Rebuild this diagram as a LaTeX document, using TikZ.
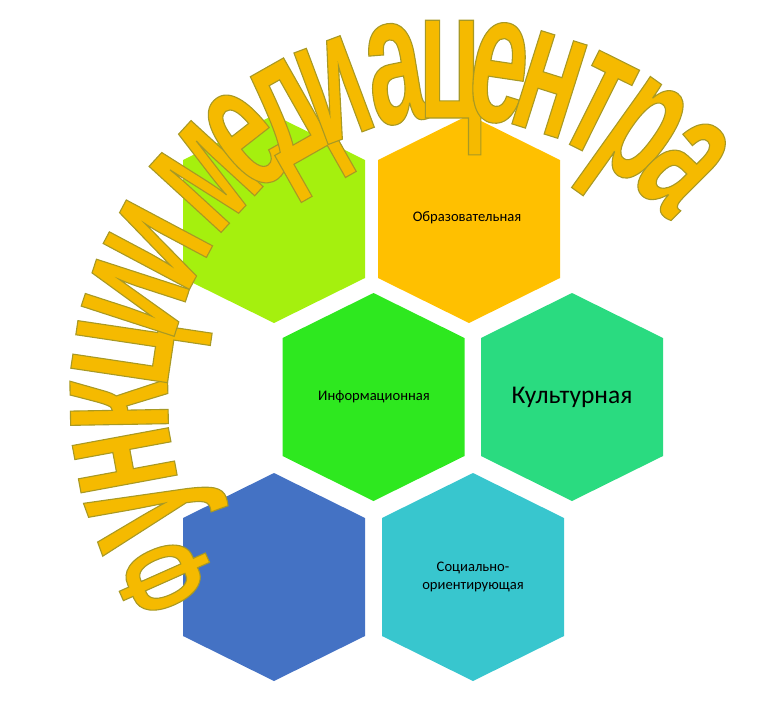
\documentclass[tikz,border=0pt]{standalone}
\usepackage{fontspec}
\setmainfont{Carlito}
\newfontfamily\titlefont[FakeStretch=0.56]{Liberation Sans Bold}
\usetikzlibrary{calc}

\definecolor{hexLime}{HTML}{A5F00E}
\definecolor{hexGold}{HTML}{FFC000}
\definecolor{hexGreen}{HTML}{2EE81F}
\definecolor{hexMint}{HTML}{2ADB80}
\definecolor{hexBlue}{HTML}{4472C4}
\definecolor{hexCyan}{HTML}{38C6CE}
\definecolor{titleGold}{HTML}{F5BA00}

\tikzset{
  hexlabel/.style={text=black, inner sep=0pt, align=center,
    font=\fontsize{14.6}{18}\selectfont},
  letterfill/.style={text=titleGold, anchor=base, inner sep=0pt,
    text height=96pt, text depth=0pt,
    font=\titlefont\fontsize{185}{185}\selectfont},
}

% gold letter with a thin olive edge
\newcommand\edged[1]{%
  \special{pdf:literal direct 0.66 0.6 0.14 RG 1.1 w 2 Tr}#1\special{pdf:literal direct 0 Tr}}

\begin{document}
\begin{tikzpicture}[x=1pt, y=1pt]
        \useasboundingbox (0,0) rectangle (764,-702);

        \fill[hexLime] (274,-115) -- ++(91,-45) -- ++(0,-118) -- ++(-91,-45) -- ++(-91,45) -- ++(0,118) -- cycle;
        \fill[hexGold] (469,-115) -- ++(91,-45) -- ++(0,-118) -- ++(-91,-45) -- ++(-91,45) -- ++(0,118) -- cycle;
        \fill[hexGreen] (373.5,-293) -- ++(91,-45) -- ++(0,-118) -- ++(-91,-45) -- ++(-91,45) -- ++(0,118) -- cycle;
        \fill[hexMint] (572,-293) -- ++(91,-45) -- ++(0,-118) -- ++(-91,-45) -- ++(-91,45) -- ++(0,118) -- cycle;
        \fill[hexBlue] (274,-473) -- ++(91,-45) -- ++(0,-118) -- ++(-91,-45) -- ++(-91,45) -- ++(0,118) -- cycle;
        \fill[hexCyan] (473,-473) -- ++(91,-45) -- ++(0,-118) -- ++(-91,-45) -- ++(-91,45) -- ++(0,118) -- cycle;

        \node[hexlabel] (edu) at (467,-218) {Образовательная};
        \node[hexlabel] (info) at (374,-397) {Информационная};
        \node[hexlabel, font=\fontsize{25.5}{30}\selectfont] (cult) at (572,-397) {Культурная};
        \node[hexlabel] (social) at (473,-577) {Социально-\\ориентирующая};

        % arched title
        \coordinate (arcctr) at (450,-400);
        \node[letterfill, font=\titlefont\fontsize{135}{135}\selectfont, rotate=114] (t1) at ($(arcctr)+(213:290)$) {\edged{Ф}};
        \node[letterfill, rotate=110] (t2) at ($(arcctr)+(200:282)$) {\edged{у}};
        \node[letterfill, rotate=100.5] (t3) at ($(arcctr)+(190.5:282)$) {\edged{н}};
        \node[letterfill, rotate=91] (t4) at ($(arcctr)+(181:282)$) {\edged{к}};
        \node[letterfill, rotate=81.5] (t5) at ($(arcctr)+(171.5:282)$) {\edged{ц}};
        \node[letterfill, rotate=72] (t6) at ($(arcctr)+(162:282)$) {\edged{и}};
        \node[letterfill, rotate=62] (t7) at ($(arcctr)+(152:282)$) {\edged{и}};
        \node[letterfill, rotate=47.5] (t8) at ($(arcctr)+(137.5:282)$) {\edged{м}};
        \node[letterfill, rotate=38] (t9) at ($(arcctr)+(128:282)$) {\edged{е}};
        \node[letterfill, rotate=29.5] (t10) at ($(arcctr)+(119.5:282)$) {\edged{д}};
        \node[letterfill, rotate=20.5] (t11) at ($(arcctr)+(110.5:282)$) {\edged{и}};
        \node[letterfill, rotate=9.5] (t12) at ($(arcctr)+(99.5:282)$) {\edged{а}};
        \node[letterfill, rotate=0] (t13) at ($(arcctr)+(90:282)$) {\edged{ц}};
        \node[letterfill, rotate=-8.5] (t14) at ($(arcctr)+(81.5:282)$) {\edged{е}};
        \node[letterfill, rotate=-17.5] (t15) at ($(arcctr)+(72.5:282)$) {\edged{н}};
        \node[letterfill, rotate=-26.5] (t16) at ($(arcctr)+(63.5:282)$) {\edged{т}};
        \node[letterfill, rotate=-35.5] (t17) at ($(arcctr)+(54.5:282)$) {\edged{р}};
        \node[letterfill, rotate=-45] (t18) at ($(arcctr)+(45:282)$) {\edged{а}};
\end{tikzpicture}
\end{document}
